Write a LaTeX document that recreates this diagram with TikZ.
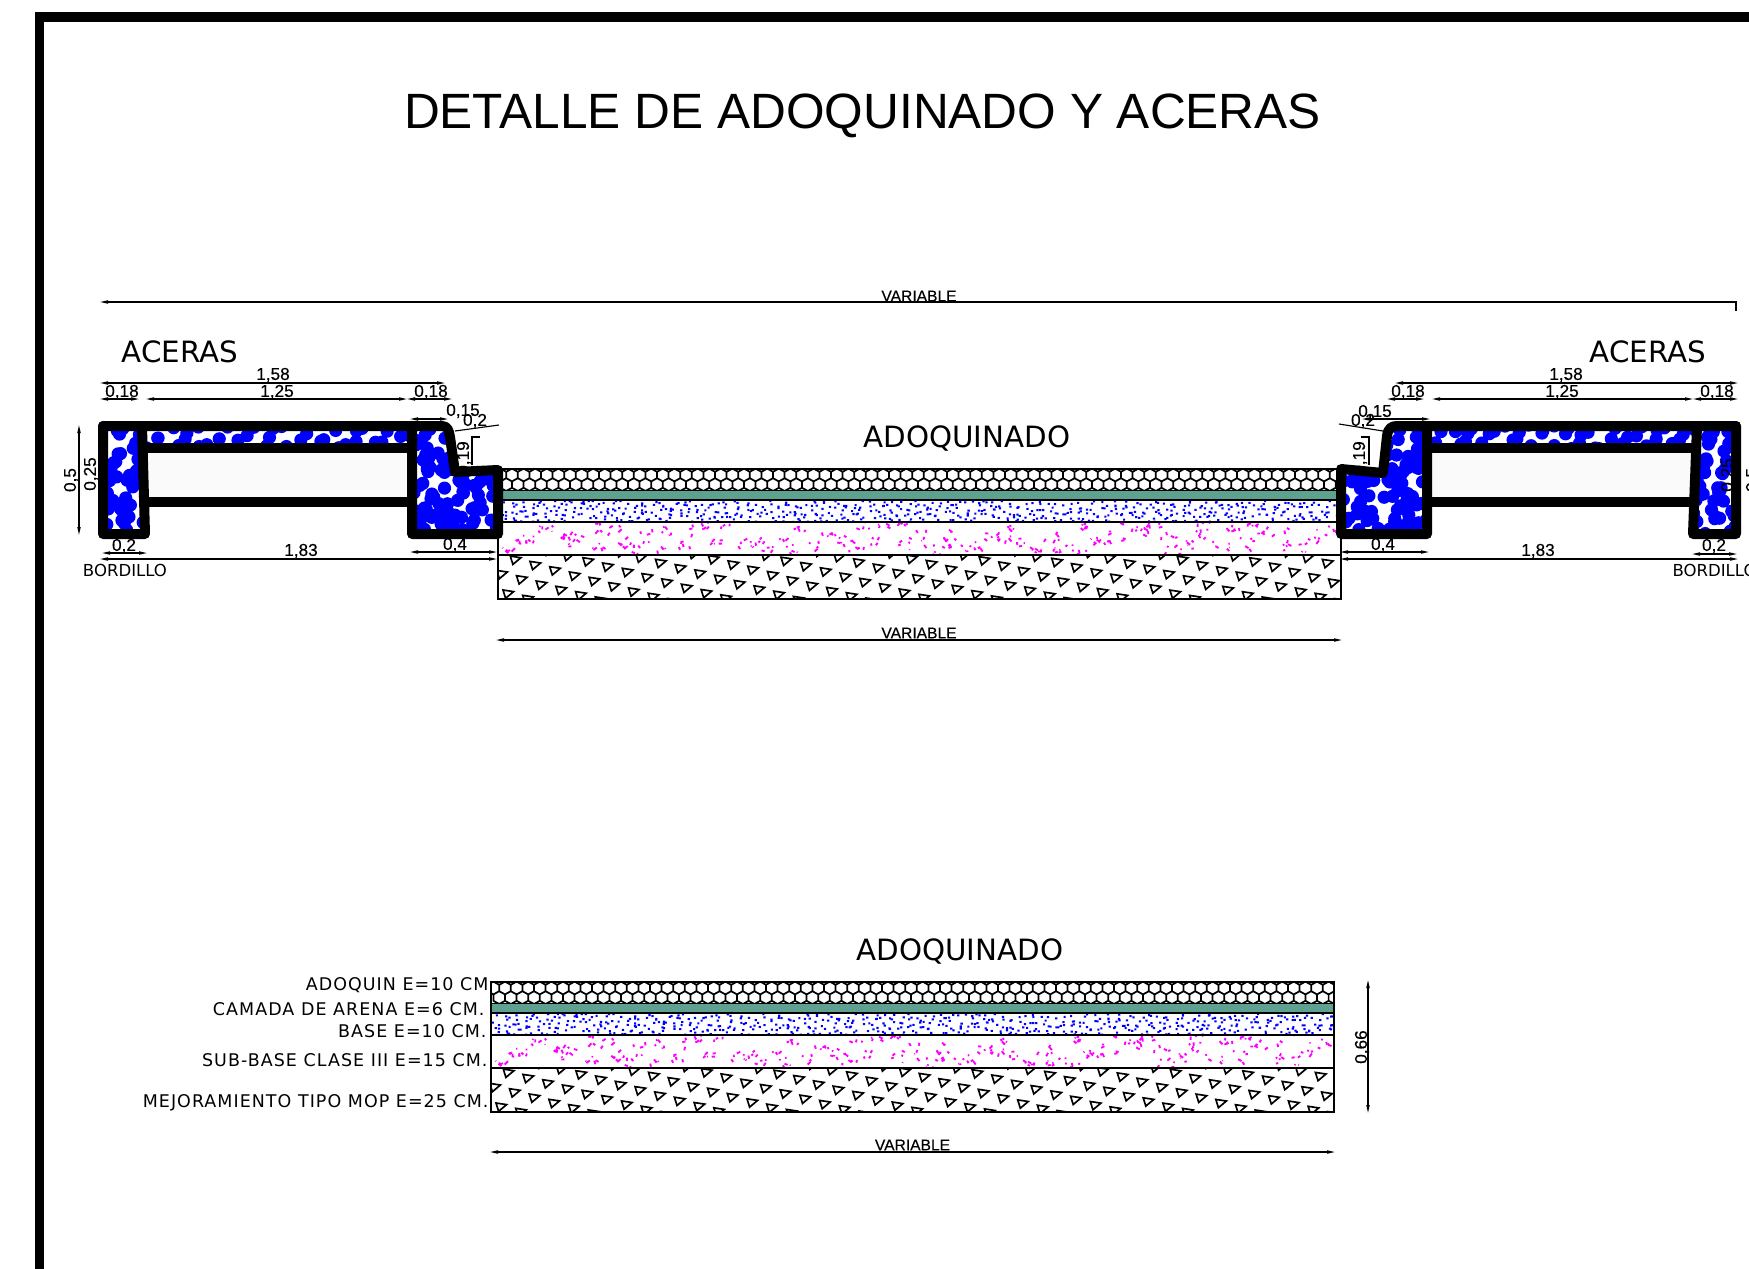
\documentclass[tikz,border=0pt]{standalone}
\usepackage{fontspec}
\usepackage{tikz}
\usetikzlibrary{arrows.meta}
\setmainfont{DejaVu Sans}
\newfontfamily\arialfont{Liberation Sans}
\newfontfamily\dimfont[FakeBold=0.35]{Liberation Sans}
\newfontfamily\layerfont[LetterSpace=6.0]{DejaVu Sans}
\definecolor{arena}{rgb}{0.37,0.63,0.57}
\definecolor{vacio}{rgb}{0.98,0.98,0.98}
\definecolor{puntoazul}{rgb}{0,0,1}
\definecolor{puntomag}{rgb}{1,0,1}
\tikzset{every picture/.style={line width=0.75pt}}
\tikzset{
  muro/.style={line width=7.5pt,line join=round,line cap=round},
  capa/.style={line width=1.4pt},
  dimline/.style={line width=0.85pt,{Triangle[length=6pt,width=2.4pt]}-{Triangle[length=6pt,width=2.4pt]}},
  dimplain/.style={line width=0.85pt},
  dimtext/.style={inner sep=0.75pt,font=\dimfont\fontsize{12.9}{13}\selectfont},
  vartext/.style={inner sep=0.75pt,font=\dimfont\fontsize{11.7}{12}\selectfont},
  etiqueta/.style={inner sep=0.75pt,font=\fontsize{12.4}{13}\selectfont},
  rotulo/.style={inner sep=0.75pt,font=\fontsize{22}{23}\selectfont},
  capatext/.style={anchor=east,inner sep=0.75pt,font=\layerfont\fontsize{13.1}{14}\selectfont},
  hormigon/.style={fill=puntoazul},
}
% capas del adoquinado, origen en la esquina superior izquierda
\newcommand{\capas}[2]{%
\begin{scope}[shift={(#1,#2)}]
\pgfmathsetseed{41}
%Adoquin
\begin{scope}
\clip (0,0) rectangle (843,21);
\draw[line width=1.3pt] foreach \r/\s in {6/2.4,15.6/8.2} { foreach \i in {0,...,73} {
  ({\s+11.6*\i},{\r-6.4}) -- ++(5.8,3.2) -- ++(0,6.4) -- ++(-5.8,3.2) -- ++(-5.8,-3.2) -- ++(0,-6.4) -- cycle } };
\end{scope}
%Camada de arena
\fill[arena] (0,22) rectangle (843,31);
%Base
\begin{scope}
\clip (0,31) rectangle (843,53);
\fill[puntoazul] foreach \n in {1,...,640} { ({\n*1.317+rnd*8-4},{31+22*mod(\n*0.7548777+rnd*0.25,1)}) rectangle +(2.2,2) };
\end{scope}
%Sub-base
\begin{scope}
\clip (0,53) rectangle (843,86);
\foreach \c in {1,...,72} {
  \pgfmathsetmacro{\cx}{\c*11.7+rnd*8-4}
  \pgfmathsetmacro{\cy}{54+32*mod(\c*0.381966+rnd*0.7,1)}
  \draw[puntomag,line width=1.4pt] foreach \n in {1,2,3,4,5} { ({\cx+rnd*16-8},{\cy+rnd*12-6}) -- ++({rnd*7-3.5},{rnd*7-3.5}) };
}
\end{scope}
%Mejoramiento
\begin{scope}
\clip (0,86) rectangle (843,130);
\draw[line width=1.25pt,line join=miter] foreach \i in {-5,...,36} { foreach \k in {-3,...,3} {
  ({36.3+19.7*\i+13.5*(\k+round(\i*0.37))-4.3},{95.7+5.3*\i-14.3*(\k+round(\i*0.37))-3.3}) -- ++(10.6,1.6) -- ++(-8,6.7) -- cycle } };
\end{scope}
%Lineas
\draw[capa] (0,0) rectangle (843,130);
\draw[capa] (0,21.5) -- (843,21.5);
\draw[capa] (0,31) -- (843,31);
\draw[capa] (0,53) -- (843,53);
\draw[capa] (0,86) -- (843,86);
\end{scope}}

\begin{document}
\begin{tikzpicture}[x=0.75pt,y=0.75pt,yscale=-1,xscale=1]
\useasboundingbox (0,0) rectangle (1749,1268);

%Shape: Marco
\draw [line width=7.2pt] (39.5,1290) -- (39.5,17) -- (1770,17) ;

% Text Node
\draw (862.5,116) node (titulo) [inner sep=0.75pt,font=\arialfont\fontsize{37.2}{38}\selectfont] {DETALLE DE ADOQUINADO Y ACERAS};

%Shape: Secciones
\capas{498}{469}
\capas{491}{982}

%Vacios de las aceras
\fill[vacio] (145,448) rectangle (412,502);
\fill[vacio] (1427,448) rectangle (1695,502);

%Hormigon acera izquierda
\pgfmathsetseed{12}
\begin{scope}
\clip (103,426) -- (142,426) -- (145,534) -- (103,534) -- cycle;
\fill[hormigon] foreach \n in {1,...,46} { ({103+42*mod(\n*0.618034,1)},{426+108*mod(\n*0.7548777+rnd*0.2,1)}) circle (6.6) };
\end{scope}
\begin{scope}
\clip (142,426) rectangle (412,443);
\fill[hormigon] foreach \n in {1,...,40} { ({\n*6.75+142+rnd*10-5},{424+26*mod(\n*0.7548777+rnd*0.3,1)}) circle (6.6) };
\end{scope}
\begin{scope}
\clip (412,426) -- (442,426) -- (450,437) -- (455,472) -- (498,470) -- (498,534) -- (412,534) -- cycle;
\fill[hormigon] foreach \n in {1,...,100} { ({412+86*mod(\n*0.618034+rnd*0.25,1)},{426+108*mod(\n*0.7548777+rnd*0.3,1)}) circle (6.6) };
\end{scope}

%Hormigon acera derecha
\begin{scope}
\clip (1341,469) -- (1383,473) -- (1387,430) -- (1397,426) -- (1427,426) -- (1427,534) -- (1341,534) -- cycle;
\fill[hormigon] foreach \n in {1,...,105} { ({1341+86*mod(\n*0.618034+rnd*0.25,1)},{426+108*mod(\n*0.7548777+rnd*0.3,1)}) circle (6.6) };
\end{scope}
\begin{scope}
\clip (1427,426) rectangle (1697,443);
\fill[hormigon] foreach \n in {1,...,46} { ({\n*5.87+1427+rnd*10-5},{424+26*mod(\n*0.7548777+rnd*0.3,1)}) circle (6.6) };
\end{scope}
\begin{scope}
\clip (1697,426) -- (1736,426) -- (1736,534) -- (1693,534) -- cycle;
\fill[hormigon] foreach \n in {1,...,50} { ({1693+43*mod(\n*0.618034,1)},{426+108*mod(\n*0.7548777+rnd*0.2,1)}) circle (6.6) };
\end{scope}

% Text Node bajo el muro
\draw (464,458) node (cotaB) [dimtext,rotate=90] {0,19};
\draw (1360,458) node (cotaG) [dimtext,rotate=90] {0,19};
\draw[dimplain] (480,437) -- (472,437) -- (472,465) ;
\draw[dimplain] (1361,437) -- (1369,437) -- (1369,465) ;

%Shape: Muro izquierdo
\draw[muro] (103,426) -- (103,534) -- (145,534) -- (142,426) ;
\draw[muro] (103,426) -- (442,426) .. controls (447,426) and (449,430) .. (450,437) -- (455,472) -- (498,470) -- (498,534) -- (412,534) -- (412,426) ;
\draw[muro] (144,448) -- (412,448) ;
\draw[muro] (144,502) -- (412,502) ;

%Shape: Muro derecho
\draw[muro] (1736,426) -- (1736,534) -- (1693,534) -- (1697,426) ;
\draw[muro] (1736,426) -- (1397,426) .. controls (1392,426) and (1388,428) .. (1387,436) -- (1383,473) -- (1341,469) -- (1341,534) -- (1427,534) -- (1427,426) ;
\draw[muro] (1427,448) -- (1696,448) ;
\draw[muro] (1427,502) -- (1695,502) ;

%Straight Lines: cotas generales
\draw[dimplain,{Triangle[length=6pt,width=2.4pt]}-] (100,302) -- (1736,302) ;
\draw[dimplain] (1736,301) -- (1736,311) ;
\draw[dimline] (496,640) -- (1342,640) ;
\draw[dimline] (490,1152) -- (1335,1152) ;
\draw[dimline] (1368,980) -- (1368,1113) ;

%Straight Lines: cotas izquierda
\draw[dimline] (100,383) -- (445,383) ;
\draw[dimline] (100,399) -- (139,399) ;
\draw[dimline] (146,399) -- (407,399) ;
\draw[dimline] (407,399) -- (452,399) ;
\draw[dimline] (410,419) -- (448,419) ;
\draw[dimplain] (455,431) -- (499,425) ;
\draw[dimline] (79,425) -- (79,535) ;
\draw[dimline] (102,553) -- (147,553) ;
\draw[dimline] (410,552) -- (497,552) ;
\draw[dimline] (100,559) -- (497,559) ;

%Straight Lines: cotas derecha
\draw[dimline] (1395,383) -- (1738,383) ;
\draw[dimline] (1387,399) -- (1424,399) ;
\draw[dimline] (1432,399) -- (1693,399) ;
\draw[dimline] (1693,399) -- (1738,399) ;
\draw[dimline] (1362,419) -- (1430,419) ;
\draw[dimplain] (1339,424) -- (1383,431) ;
\draw[dimline] (1692,554) -- (1737,554) ;
\draw[dimline] (1340,552) -- (1429,552) ;
\draw[dimline] (1340,559) -- (1738,559) ;

% Text Node
\draw (919,296) node (varA) [vartext] {VARIABLE};
\draw (919,633) node (varB) [vartext] {VARIABLE};
\draw (912.5,1145) node (varC) [vartext] {VARIABLE};
\draw (180,352) node (aceraL) [rotulo] {ACERAS};
\draw (1648,352) node (aceraR) [rotulo] {ACERAS};
\draw (967,438) node (adoqA) [rotulo] {ADOQUINADO};
\draw (960,951) node (adoqB) [rotulo] {ADOQUINADO};
\draw (125,570) node (bordL) [etiqueta] {BORDILLO};
\draw (1671,570) node (bordR) [etiqueta,anchor=west] {BORDILLO};

% Text Node: cotas izquierda
\draw (273,375) node (cotaL1) [dimtext] {1,58};
\draw (122,392) node (cotaL2) [dimtext] {0,18};
\draw (277,392) node (cotaL3) [dimtext] {1,25};
\draw (431,392) node (cotaL4) [dimtext] {0,18};
\draw (463,411) node (cotaL5) [dimtext] {0,15};
\draw (475,421) node (cotaL6) [dimtext] {0,2};
\draw (71,480) node (cotaL7) [dimtext,rotate=90] {0,5};
\draw (91,474) node (cotaL8) [dimtext,rotate=90] {0,25};
\draw (124,546) node (cotaL9) [dimtext] {0,2};
\draw (301,551) node (cotaL10) [dimtext] {1,83};
\draw (455,545) node (cotaL11) [dimtext] {0,4};

% Text Node: cotas derecha
\draw (1566,375) node (cotaR1) [dimtext] {1,58};
\draw (1408,392) node (cotaR2) [dimtext] {0,18};
\draw (1562,392) node (cotaR3) [dimtext] {1,25};
\draw (1717,392) node (cotaR4) [dimtext] {0,18};
\draw (1375,412) node (cotaR5) [dimtext] {0,15};
\draw (1363,421) node (cotaR6) [dimtext] {0,2};
\draw (1753,480) node (cotaR7) [dimtext,rotate=90] {0,5};
\draw (1728,475) node (cotaR8) [dimtext,rotate=90] {0,25};
\draw (1714,546) node (cotaR9) [dimtext] {0,2};
\draw (1538,551) node (cotaR10) [dimtext] {1,83};
\draw (1383,545) node (cotaR11) [dimtext] {0,4};
\draw (1362,1047) node (cotaH) [dimtext,rotate=90] {0,66};

% Text Node: capas
\draw (490,985) node (capaA) [capatext] {ADOQUIN E=10 CM};
\draw (486,1009) node (capaB) [capatext] {CAMADA DE ARENA E=6 CM.};
\draw (488,1031) node (capaC) [capatext] {BASE E=10 CM.};
\draw (489,1060) node (capaD) [capatext] {SUB-BASE CLASE III E=15 CM.};
\draw (490,1103) node (capaE) [capatext] {MEJORAMIENTO TIPO MOP E=25 CM.};
\end{tikzpicture}
\end{document}
